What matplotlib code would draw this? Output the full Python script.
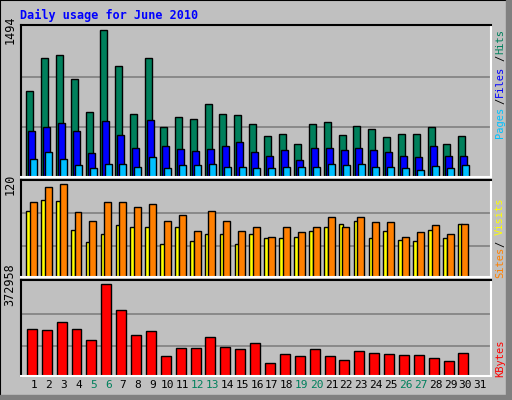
import matplotlib.pyplot as plt
from matplotlib.patches import Rectangle

days = list(range(1, 32))
hits = [869, 1210, 1240, 997, 662, 1494, 1129, 642, 1210, 510, 612, 591, 744, 642, 632,
        541, 419, 439, 328, 541, 561, 429, 520, 490, 409, 439, 439, 510, 338, 419]
files = [460, 510, 551, 460, 237, 571, 429, 297, 581, 308, 287, 257, 287, 308, 358,
         247, 216, 267, 166, 297, 297, 277, 297, 267, 247, 216, 196, 308, 216, 216]
pages = [176, 247, 176, 115, 85, 135, 135, 95, 196, 85, 115, 115, 125, 95, 95,
         85, 85, 95, 95, 95, 125, 115, 125, 95, 95, 85, 74, 105, 85, 115]
visits = [97, 116, 120, 84, 72, 97, 97, 90, 94, 72, 80, 60, 85, 72, 59,
          65, 52, 64, 58, 65, 78, 64, 78, 71, 71, 52, 58, 67, 56, 68]
sites = [86, 100, 99, 61, 45, 56, 67, 64, 64, 43, 65, 47, 56, 56, 42,
         55, 51, 51, 52, 59, 65, 69, 73, 50, 60, 48, 47, 61, 50, 69]
kbytes = [189200, 185100, 217800, 189200, 144300, 372958, 266800, 164700, 181000, 78950,
          111600, 111600, 156500, 115700, 107500, 132000, 50360, 87110, 78950, 107500,
          78950, 62610, 99370, 91200, 87110, 83030, 83030, 70780, 58530, 91200]
weekend = [5, 6, 12, 13, 19, 20, 26, 27]

GRAY = "#c0c0c0"
mono = "DejaVu Sans Mono"

fig = plt.figure(figsize=(5.12, 4), dpi=100, facecolor=GRAY)
# outer frame + shadow
fig.patches.append(Rectangle((0, 0), 1, 1, transform=fig.transFigure, fill=False,
                             edgecolor="black", lw=1.5))
fig.patches.append(Rectangle((506/512, 0), 6/512, 1, transform=fig.transFigure,
                             color="#808080"))
fig.patches.append(Rectangle((0, 0), 1, 5/400, transform=fig.transFigure, color="#808080"))

x = days[:30]
L, W = 20.7/512, 470/512
ax1 = fig.add_axes([L, 0.558, W, 0.379])
ax2 = fig.add_axes([L, 0.308, W, 0.242])
ax3 = fig.add_axes([L, 0.061, W, 0.239])

def bars(ax, off, vals, w, color):
    ax.bar([d + off for d in x], vals, width=w, color=color, edgecolor="black", lw=1)

bars(ax1, -0.29, hits, 0.47, "#00805c")
bars(ax1, -0.15, files, 0.47, "#0000ff")
bars(ax1, -0.01, pages, 0.47, "#00c0ff")
bars(ax2, -0.36, sites, 0.3, "#ffff00")
bars(ax2, -0.03, visits, 0.47, "#ff8000")
bars(ax3, -0.13, kbytes, 0.67, "#ff0000")

for ax, top, k, grid in [(ax1, 1494, 1.03, (0.335, 0.68)),
                         (ax2, 120, 1.047, (0.33, 0.686)),
                         (ax3, 372958, 1.047, (0.325, 0.68))]:
    ax.set_facecolor(GRAY)
    ax.set_xlim(0.12, 31.7)
    ax.set_ylim(0, top * k)
    for g in grid:
        ax.axhline(top * g, color="#808080", lw=1.2, zorder=0)
    ax.set_yticks([top])
    ax.set_yticklabels([str(top)], rotation=90, va="center", family=mono, fontsize=8.5)
    ax.tick_params(length=0, pad=3)
    ax.spines["top"].set_color("black")
    ax.spines["left"].set_color("black")
    ax.spines["bottom"].set_color("white")
    ax.spines["right"].set_color("white")
    for s in ax.spines.values():
        s.set_linewidth(1.5)
    ax.set_axisbelow(True)
    ax.set_xticks([])

ax3.set_xticks(days)
ax3.set_xticklabels([str(d) for d in days], family=mono, fontsize=8)
for lbl, d in zip(ax3.get_xticklabels(), days):
    if d in weekend:
        lbl.set_color("#00805c")

fig.text(20/512, 1 - 15/400, "Daily usage for June 2010", color="#0000ff", family=mono,
         fontweight="bold", fontsize=8.5, va="center")

def side(y, txt, color):
    fig.text(500/512, 1 - y/400, txt, color=color, family=mono, fontsize=7.5,
             rotation=90, ha="center", va="center")

side(41, "Hits", "#00805c")
side(58, "/", "black")
side(81, "Files", "#0000ff")
side(101, "/", "black")
side(122, "Pages", "#00c0ff")
side(216, "Visits", "#ffff00")
side(244, "/", "black")
side(262, "Sites", "#ff8000")
side(358, "KBytes", "#ff0000")

fig.savefig("out.png", dpi=100, facecolor=GRAY)
